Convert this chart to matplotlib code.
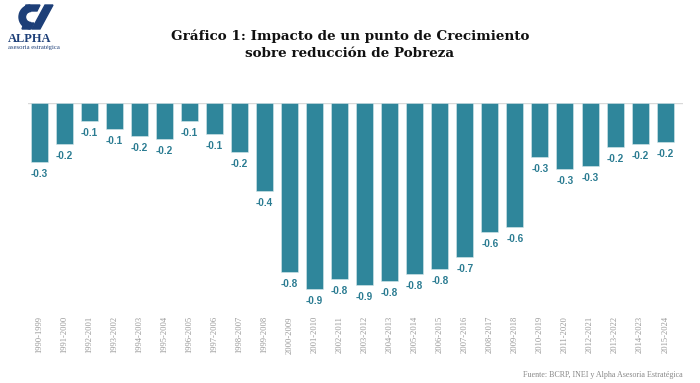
import numpy as np
import matplotlib
matplotlib.use("Agg")
import matplotlib.pyplot as plt
from matplotlib.patches import Polygon, Wedge

periodos = ["1990-1999", "1991-2000", "1992-2001", "1993-2002", "1994-2003",
            "1995-2004", "1996-2005", "1997-2006", "1998-2007", "1999-2008",
            "2000-2009", "2001-2010", "2002-2011", "2003-2012", "2004-2013",
            "2005-2014", "2006-2015", "2007-2016", "2008-2017", "2009-2018",
            "2010-2019", "2011-2020", "2012-2021", "2013-2022", "2014-2023",
            "2015-2024"]
impacto = [-0.28, -0.195, -0.085, -0.123, -0.156, -0.171, -0.085, -0.147,
           -0.232, -0.417, -0.80, -0.88, -0.834, -0.862, -0.844, -0.81,
           -0.787, -0.73, -0.611, -0.588, -0.256, -0.313, -0.30, -0.209,
           -0.194, -0.185]

bar_color = "#2f869b"
label_color = "#2b7c92"
navy = "#1d3f78"

fig = plt.figure(figsize=(7, 3.83), dpi=100)
ax = fig.add_axes([0.04, 0.2037, 0.936, 0.5274])

x = np.arange(len(periodos))
ax.bar(x, impacto, width=0.68, color=bar_color, edgecolor="#d8e8ec", linewidth=0.4)
ax.axhline(0, color="#d9d9d9", linewidth=1.0, zorder=0)

# etiquetas de valor bajo cada barra
for xi, v in zip(x, impacto):
    ax.annotate("{:.1f}".format(v), (xi, v), xytext=(0, -5), textcoords="offset points",
                ha="center", va="top", fontsize=7.2, fontweight="bold",
                color=label_color, family="Liberation Sans")

ax.set_xlim(-0.44, 25.72)
ax.set_ylim(-0.957, 0)
ax.set_xticks(x)
ax.set_xticklabels(periodos, rotation=90, fontsize=6.1, color="#999999",
                   family="Liberation Serif")
ax.tick_params(axis="x", length=0, pad=8)
ax.set_yticks([])
for s in ax.spines.values():
    s.set_visible(False)

fig.text(0.5, 0.883, "Gráfico 1: Impacto de un punto de Crecimiento\nsobre reducción de Pobreza",
         ha="center", va="center", fontsize=9.7, fontweight="bold",
         family="DejaVu Serif", linespacing=1.45, color="#111111")

fig.text(0.976, 0.022, "Fuente: BCRP, INEI y Alpha Asesoria Estratégica",
         ha="right", va="center", fontsize=5.8, color="#888888", family="Liberation Serif")

# logo
lax = fig.add_axes([0, 0.85, 0.1, 0.15])
lax.set_xlim(0, 70)
lax.set_ylim(57.45, 0)
lax.axis("off")
lax.add_patch(Wedge((31, 17), 12, 95, 265, width=6.5, color=navy))
lax.add_patch(Polygon([[26, 5], [40, 5], [37, 11], [24, 11]], closed=True, color=navy))
lax.add_patch(Polygon([[24, 23], [34, 23], [31, 29], [22, 29]], closed=True, color=navy))
lax.add_patch(Polygon([[45, 5], [53, 5], [40, 29], [32, 29]], closed=True, color=navy))
lax.text(30, 39, "ALPHA", ha="center", va="center", fontsize=9, fontweight="bold",
         color=navy, family="Liberation Serif")
lax.text(34, 47.5, "asesoria estratégica", ha="center", va="center", fontsize=4.8,
         color=navy, family="Liberation Serif")

fig.savefig("out.png", dpi=100)
